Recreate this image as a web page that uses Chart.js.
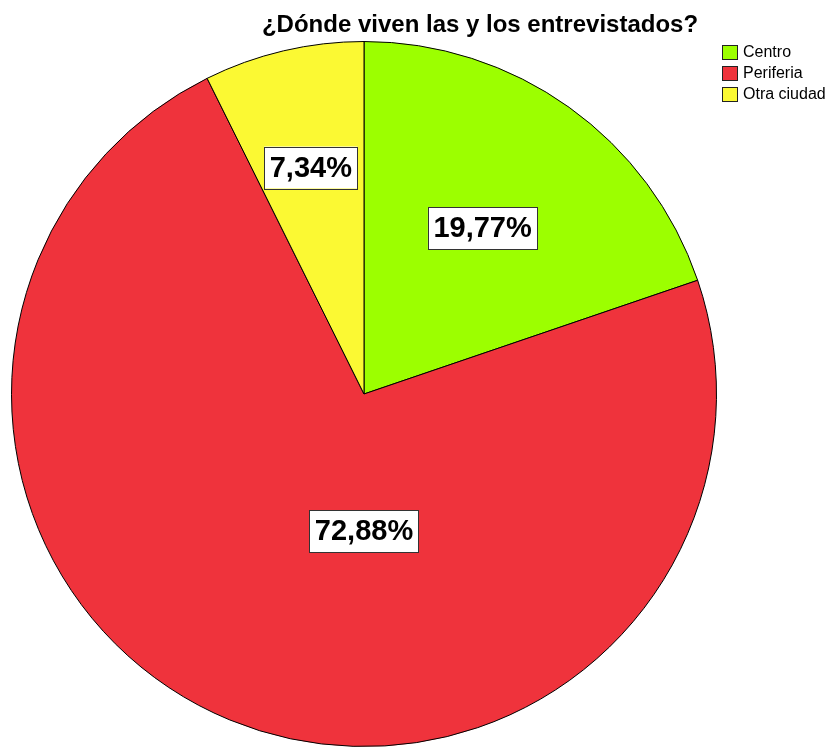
<!DOCTYPE html>
<html>
<head>
<meta charset="utf-8">
<script src="https://cdn.jsdelivr.net/npm/chart.js@4/dist/chart.umd.min.js"></script>
<style>
  html, body { margin: 0; padding: 0; background: #fff; }
  #wrap { width: 830px; height: 747px; position: relative; }
</style>
</head>
<body>
<div id="wrap"><canvas id="tortaChart"></canvas></div>
<script>
// datos
const categorias = ['Centro', 'Periferia', 'Otra ciudad'];
const porcentajes = [19.77, 72.88, 7.34];
const etiquetas = ['19,77%', '72,88%', '7,34%'];
const colores = ['#9cff00', '#ef333c', '#fbf933'];

// dónde cae cada etiqueta dentro de su porción (fracción del radio)
const radioEtiqueta = [0.578, 0.39, 0.66];
const anguloFijo = [null, Math.PI / 2, null];

const tituloGrafico = '¿Dónde viven las y los entrevistados?';

const etiquetasPlugin = {
    id: 'etiquetas',
    afterDraw(chart) {
        const ctx = chart.ctx;
        const meta = chart.getDatasetMeta(0);
        ctx.save();

        // título
        ctx.font = 'bold 24px "Liberation Sans", Arial, sans-serif';
        ctx.fillStyle = '#000';
        ctx.textAlign = 'center';
        ctx.textBaseline = 'middle';
        ctx.fillText(tituloGrafico, 480, 25);

        // etiquetas de porcentaje
        ctx.font = 'bold 29px "Liberation Sans", Arial, sans-serif';
        meta.data.forEach((arc, i) => {
            const p = arc.getProps(['x', 'y', 'startAngle', 'endAngle', 'outerRadius'], true);
            const ang = anguloFijo[i] !== null ? anguloFijo[i] : (p.startAngle + p.endAngle) / 2;
            const r = p.outerRadius * radioEtiqueta[i];
            const x = p.x + Math.cos(ang) * r;
            const y = p.y + Math.sin(ang) * r;
            const w = ctx.measureText(etiquetas[i]).width + 11;
            const h = 42;
            ctx.fillStyle = '#fff';
            ctx.fillRect(x - w / 2, y - h / 2, w, h);
            ctx.strokeStyle = '#333';
            ctx.lineWidth = 1;
            ctx.strokeRect(Math.round(x - w / 2) + 0.5, Math.round(y - h / 2) + 0.5, Math.round(w), h);
            ctx.fillStyle = '#000';
            ctx.fillText(etiquetas[i], x, y + 1);
        });

        // leyenda
        ctx.font = '16px "Liberation Sans", Arial, sans-serif';
        ctx.textAlign = 'left';
        categorias.forEach((cat, i) => {
            const y = 45 + i * 21;
            ctx.fillStyle = colores[i];
            ctx.fillRect(722, y, 16, 15);
            ctx.strokeStyle = '#222';
            ctx.strokeRect(722.5, y + 0.5, 15, 14);
            ctx.fillStyle = '#000';
            ctx.fillText(cat, 743, y + 8);
        });
        ctx.restore();
    }
};

document.addEventListener('DOMContentLoaded', function() {
    const ctx = document.getElementById('tortaChart').getContext('2d');
    new Chart(ctx, {
        type: 'pie',
        data: {
            labels: categorias,
            datasets: [{
                data: porcentajes,
                backgroundColor: colores,
                borderColor: '#000',
                borderWidth: 1
            }]
        },
        options: {
            responsive: true,
            maintainAspectRatio: false,
            animation: false,
            layout: {
                padding: { left: 10, right: 112, top: 41, bottom: 0 }
            },
            plugins: {
                legend: { display: false },
                title: { display: false },
                tooltip: { enabled: false }
            }
        },
        plugins: [etiquetasPlugin]
    });
});
</script>
</body>
</html>
